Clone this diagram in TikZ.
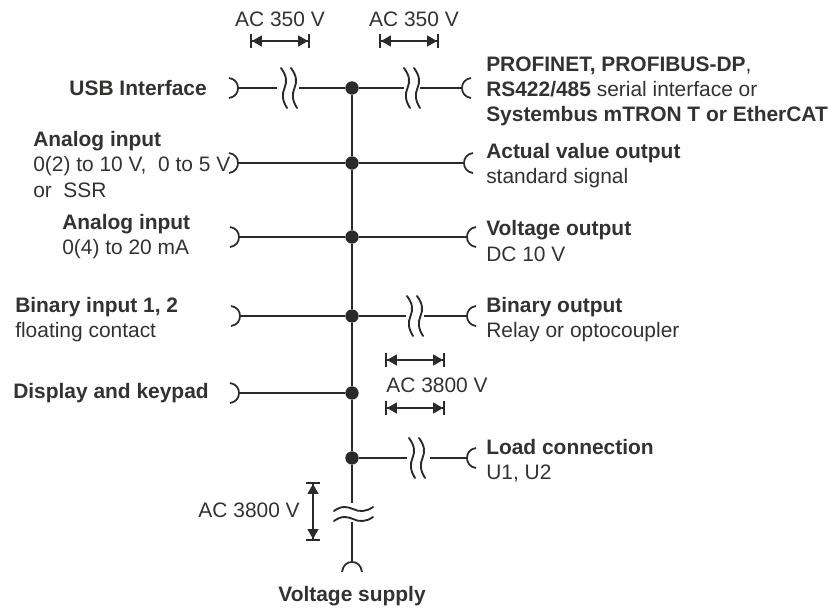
\documentclass[tikz,border=0pt]{standalone}
\usepackage{fontspec}
\setmainfont{Liberation Sans}
\usetikzlibrary{arrows.meta}
\definecolor{linecol}{HTML}{2B2A29}
\definecolor{textcol}{HTML}{333231}

\providecommand{\addplugleft}[1]{
    \draw[plug] ([shift={(-9,-10)}]#1) .. controls ([shift={(-3,-9)}]#1) and ([shift={(0,-5)}]#1) .. (#1)
        .. controls ([shift={(0,5)}]#1) and ([shift={(-3,9)}]#1) .. ([shift={(-9,10)}]#1);
}
\providecommand{\addplugright}[1]{
    \draw[plug] ([shift={(9,-10)}]#1) .. controls ([shift={(3,-9)}]#1) and ([shift={(0,-5)}]#1) .. (#1)
        .. controls ([shift={(0,5)}]#1) and ([shift={(3,9)}]#1) .. ([shift={(9,10)}]#1);
}
\providecommand{\addwave}[1]{
    \draw[wave] ([shift={(-7,-20)}]#1) .. controls ([shift={(-1,-12)}]#1) and ([shift={(-1,-6)}]#1) .. ([shift={(-3.5,0)}]#1)
        .. controls ([shift={(-6,6)}]#1) and ([shift={(-6,12)}]#1) .. ([shift={(-1,20)}]#1);
    \draw[wave] ([shift={(3,-20)}]#1) .. controls ([shift={(9,-12)}]#1) and ([shift={(9,-6)}]#1) .. ([shift={(6.5,0)}]#1)
        .. controls ([shift={(4,6)}]#1) and ([shift={(4,12)}]#1) .. ([shift={(9,20)}]#1);
}

\begin{document}
\begin{tikzpicture}[
    x=0.75pt, y=-0.75pt,
    line/.style={draw=linecol, line width=1.3pt},
    plug/.style={draw=linecol, line width=1.3pt},
    wave/.style={draw=linecol, line width=1.4pt, line cap=round},
    bus/.style={draw=linecol, line width=1.7pt},
    punto/.style={circle, fill=linecol, inner sep=0pt, minimum size=10pt},
    dimen/.style={draw=linecol, line width=1.4pt, {Bar[width=10pt,line width=1.4pt]Triangle[length=7.5pt,width=8pt]}-{Triangle[length=7.5pt,width=8pt]Bar[width=10pt,line width=1.4pt]}},
    etiqueta/.style={text=textcol, font=\fontsize{15.7}{18.8}\selectfont, align=left, inner sep=0pt, anchor=west},
    centrada/.style={text=textcol, font=\fontsize{15.7}{18.8}\selectfont, inner sep=0pt}
]
    \useasboundingbox (0,0) rectangle (829,608);

    % BUS JUNCTIONS
    \node[punto] (J1) at (352,88) {};
    \node[punto] (J2) at (352,163) {};
    \node[punto] (J3) at (352,237) {};
    \node[punto] (J4) at (352,316) {};
    \node[punto] (J5) at (352,393) {};
    \node[punto] (J6) at (352,458) {};

    % PLUG POINTS
    \coordinate (USB) at (238,88);
    \coordinate (AI1) at (238,163);
    \coordinate (AI2) at (239,237);
    \coordinate (BIN) at (240,316);
    \coordinate (KEY) at (239,393);
    \coordinate (NET) at (462,88);
    \coordinate (AVO) at (464,163);
    \coordinate (VOUT) at (467,237);
    \coordinate (BOUT) at (467,316);
    \coordinate (LOAD) at (467,458);
    \coordinate (SUP) at (352,562);

    % BREAK POINTS
    \coordinate (W1) at (288,88);
    \coordinate (W1a) at (277,88);
    \coordinate (W1b) at (299,88);
    \coordinate (W2) at (411,88);
    \coordinate (W2a) at (404,88);
    \coordinate (W2b) at (420,88);
    \coordinate (W3) at (414,316);
    \coordinate (W3a) at (406,316);
    \coordinate (W3b) at (424,316);
    \coordinate (W4) at (416,458);
    \coordinate (W4a) at (407,458);
    \coordinate (W4b) at (430,458);
    \coordinate (W5a) at (352,503);
    \coordinate (W5b) at (352,522);

    % BUS AND BRANCHES
    \draw[bus] (J1) -- (J2) -- (J3) -- (J4) -- (J5) -- (J6) -- (W5a);
    \draw[line] (W5b) -- (SUP);
    \draw[line] (USB) -- (W1a);
    \draw[line] (W1b) -- (J1);
    \draw[line] (J1) -- (W2a);
    \draw[line] (W2b) -- (NET);
    \draw[line] (AI1) -- (J2);
    \draw[line] (J2) -- (AVO);
    \draw[line] (AI2) -- (J3);
    \draw[line] (J3) -- (VOUT);
    \draw[line] (BIN) -- (J4);
    \draw[line] (J4) -- (W3a);
    \draw[line] (W3b) -- (BOUT);
    \draw[line] (KEY) -- (J5);
    \draw[line] (J6) -- (W4a);
    \draw[line] (W4b) -- (LOAD);

    % PLUGS AND BREAKS
    \addplugleft{USB} \addplugleft{AI1} \addplugleft{AI2} \addplugleft{BIN} \addplugleft{KEY}
    \addplugright{NET} \addplugright{AVO} \addplugright{VOUT} \addplugright{BOUT} \addplugright{LOAD}
    \draw[plug] ([shift={(-10,10)}]SUP) .. controls ([shift={(-9,3)}]SUP) and ([shift={(-5,0)}]SUP) .. (SUP)
        .. controls ([shift={(5,0)}]SUP) and ([shift={(9,3)}]SUP) .. ([shift={(10,10)}]SUP);
    \addwave{W1} \addwave{W2} \addwave{W3} \addwave{W4}
    \draw[wave] (334,511) .. controls (342,505) and (348,507) .. (353,509) .. controls (359,512) and (366,512) .. (373,507);
    \draw[wave] (334,521) .. controls (342,515) and (348,517) .. (353,519) .. controls (359,522) and (366,522) .. (373,517);

    % DIMENSION ARROWS
    \coordinate (D1a) at (250,41); \coordinate (D1b) at (310,41);
    \coordinate (D2a) at (379,41); \coordinate (D2b) at (439,41);
    \coordinate (D3a) at (385,360); \coordinate (D3b) at (445,360);
    \coordinate (D4a) at (385,408); \coordinate (D4b) at (445,408);
    \coordinate (D5a) at (313,482); \coordinate (D5b) at (313,541);
    \draw[dimen] (D1a) -- (D1b);
    \draw[dimen] (D2a) -- (D2b);
    \draw[dimen] (D3a) -- (D3b);
    \draw[dimen] (D4a) -- (D4b);
    \draw[dimen] (D5a) -- (D5b);

    % VOLTAGE LABELS
    \node[centrada] (V1) at (280,19) {AC 350 V};
    \node[centrada] (V2) at (414,19) {AC 350 V};
    \node[centrada] (V3) at (437,385) {AC 3800 V};
    \node[centrada, anchor=east] (V4) at (300,510) {AC 3800 V};

    % LEFT LABELS
    \node[etiqueta, anchor=east] (LUSB) at (207,88) {\textbf{USB Interface}};
    \node[etiqueta] (LAI1) at (33,164.5) {\textbf{Analog input}\\0(2) to 10 V,\ \ 0 to 5 V\\or\ \ SSR};
    \node[etiqueta] (LAI2) at (62,236.5) {\textbf{Analog input}\\0(4) to 20 mA};
    \node[etiqueta] (LBIN) at (15,320) {\textbf{Binary input 1, 2}\\floating contact};
    \node[etiqueta] (LKEY) at (13,393) {\textbf{Display and keypad}};

    % RIGHT LABELS
    \node[etiqueta] (RNET) at (486,91) {\textbf{PROFINET, PROFIBUS-DP},\\\textbf{RS422/485} serial interface or\\\textbf{Systembus mTRON T or EtherCAT}};
    \node[etiqueta] (RAVO) at (486,165.5) {\textbf{Actual value output}\\standard signal};
    \node[etiqueta] (RVOUT) at (486,241) {\textbf{Voltage output}\\DC 10 V};
    \node[etiqueta] (RBOUT) at (486,319.5) {\textbf{Binary output}\\Relay or optocoupler};
    \node[etiqueta] (RLOAD) at (486,460.5) {\textbf{Load connection}\\U1, U2};
    \node[centrada] (LSUP) at (352,596) {\textbf{Voltage supply}};

\end{tikzpicture}
\end{document}
